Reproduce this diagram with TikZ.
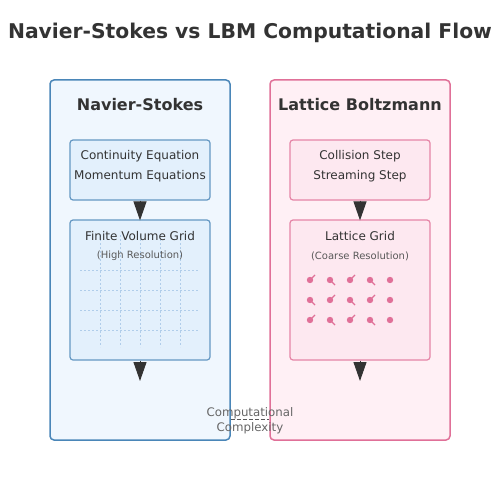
\documentclass[tikz,border=0pt]{standalone}
\usepackage{fontspec}
\setmainfont{DejaVu Sans}
\usetikzlibrary{arrows.meta}

\definecolor{nsline}{HTML}{4A86B8}
\definecolor{nsfill}{HTML}{F0F7FE}
\definecolor{nsinner}{HTML}{E3F0FC}
\definecolor{lbline}{HTML}{E07098}
\definecolor{lbfill}{HTML}{FFF0F5}
\definecolor{lbinner}{HTML}{FDE8F0}
\definecolor{gridline}{HTML}{B0CDEA}
\definecolor{textdark}{HTML}{333333}

\tikzset{
  outerbox/.style={draw, line width=1.5pt, rounded corners=4pt, inner sep=0pt,
    minimum width=180pt, minimum height=360pt},
  innerbox/.style={draw, line width=1.2pt, rounded corners=3pt, inner sep=0pt,
    minimum width=140pt},
  flowarrow/.style={draw=textdark, line width=1pt,
    -{Triangle[width=13pt,length=19pt]}, textdark},
  gridrule/.style={gridline, line width=1pt, dash pattern=on 2pt off 2pt},
  header/.style={font=\bfseries\fontsize{16}{19}\selectfont, text=textdark},
  body/.style={font=\fontsize{12}{14}\selectfont, text=textdark},
  small/.style={font=\fontsize{10}{12}\selectfont, text=black!65},
}

\begin{document}
\begin{tikzpicture}[x=1pt,y=-1pt]
\useasboundingbox (0,0) rectangle (500,500);

\node[font=\bfseries\fontsize{20.3}{24}\selectfont, text=textdark] (title) at (250,33)
{Navier-Stokes vs LBM Computational Flow};

% Navier-Stokes side
\node[outerbox, draw=nsline, fill=nsfill] (ns) at (140,260) {};
\node[header] (nshead) at (140,105) {Navier-Stokes};
\node[innerbox, draw=nsline!85, fill=nsinner, minimum height=60pt] (nseq) at (140,170) {};
\node[body] (nseq1) at (140,156) {Continuity Equation};
\node[body] (nseq2) at (140,176) {Momentum Equations};
\node[innerbox, draw=nsline!85, fill=nsinner, minimum height=140pt] (nsgrid) at (140,290) {};

\draw[gridrule] (100,235) -- (100,347);
\draw[gridrule] (120,235) -- (120,347);
\draw[gridrule] (140,235) -- (140,347);
\draw[gridrule] (160,235) -- (160,347);
\draw[gridrule] (180,235) -- (180,347);
\draw[gridrule] (80,270) -- (198,270);
\draw[gridrule] (80,290) -- (198,290);
\draw[gridrule] (80,310) -- (198,310);
\draw[gridrule] (80,330) -- (198,330);

\node[body] (nsgrid1) at (140,236) {Finite Volume Grid};
\node[small] (nsgrid2) at (140,256) {(High Resolution)};

\coordinate (nsend) at (140,381);
\draw[flowarrow] (nseq.south) -- ([yshift=-1pt]nsgrid.north);
\draw[flowarrow] (nsgrid.south) -- (nsend);

% Lattice Boltzmann side
\node[outerbox, draw=lbline, fill=lbfill] (lb) at (360,260) {};
\node[header] (lbhead) at (360,105) {Lattice Boltzmann};
\node[innerbox, draw=lbline!85, fill=lbinner, minimum height=60pt] (lbstep) at (360,170) {};
\node[body] (lbstep1) at (360,156) {Collision Step};
\node[body] (lbstep2) at (360,176) {Streaming Step};
\node[innerbox, draw=lbline!85, fill=lbinner, minimum height=140pt] (lbgrid) at (360,290) {};
\node[body] (lbgrid1) at (360,236) {Lattice Grid};
\node[small] (lbgrid2) at (360,256) {(Coarse Resolution)};

\fill[lbline] (310,280) circle (3.2);
\fill[lbline] (330,280) circle (3.2);
\fill[lbline] (350,280) circle (3.2);
\fill[lbline] (370,280) circle (3.2);
\fill[lbline] (390,280) circle (3.2);
\fill[lbline] (310,300) circle (3.2);
\fill[lbline] (330,300) circle (3.2);
\fill[lbline] (350,300) circle (3.2);
\fill[lbline] (370,300) circle (3.2);
\fill[lbline] (390,300) circle (3.2);
\fill[lbline] (310,320) circle (3.2);
\fill[lbline] (330,320) circle (3.2);
\fill[lbline] (350,320) circle (3.2);
\fill[lbline] (370,320) circle (3.2);
\fill[lbline] (390,320) circle (3.2);
\draw[lbline, line width=1.2pt] (310,280) -- (315,275);
\draw[lbline, line width=1.2pt] (330,280) -- (335,285);
\draw[lbline, line width=1.2pt] (350,280) -- (355,275);
\draw[lbline, line width=1.2pt] (370,280) -- (375,285);
\draw[lbline, line width=1.2pt] (310,300) -- (315,305);
\draw[lbline, line width=1.2pt] (330,300) -- (335,295);
\draw[lbline, line width=1.2pt] (350,300) -- (355,305);
\draw[lbline, line width=1.2pt] (370,300) -- (375,295);
\draw[lbline, line width=1.2pt] (310,320) -- (315,315);
\draw[lbline, line width=1.2pt] (330,320) -- (335,325);
\draw[lbline, line width=1.2pt] (350,320) -- (355,315);
\draw[lbline, line width=1.2pt] (370,320) -- (375,325);

\coordinate (lbend) at (360,381);
\draw[flowarrow] (lbstep.south) -- ([yshift=-1pt]lbgrid.north);
\draw[flowarrow] (lbgrid.south) -- (lbend);

% complexity link
\draw[black!65, line width=1pt, dash pattern=on 4pt off 2pt] (ns.east |- 0,419) -- (lb.west |- 0,419);
\node[font=\fontsize{11.8}{15}\selectfont, text=black!60, align=center] (cost) at (250,420.5)
{Computational\\Complexity};
\end{tikzpicture}
\end{document}
